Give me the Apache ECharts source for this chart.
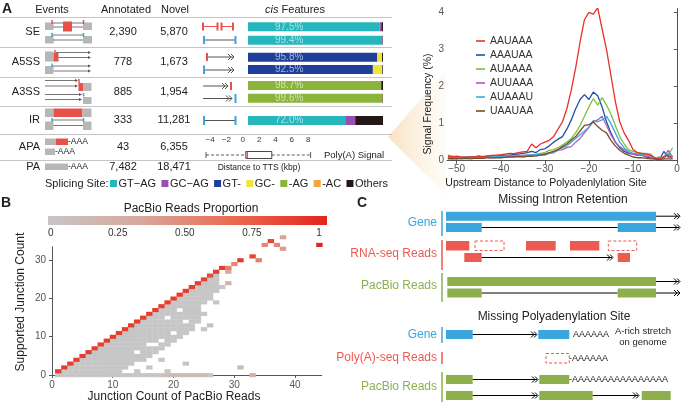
<!DOCTYPE html>
<html><head><meta charset="utf-8">
<script src="https://cdn.jsdelivr.net/npm/echarts@6/dist/echarts.min.js"></script>
<style>html,body{margin:0;padding:0;background:#fff}#c{width:683px;height:407px}</style>
</head><body><div id="c"></div>
<script>
// ---------------- DATA ----------------
const events = ['SE','A5SS','A3SS','IR','APA','PA'];
const annotated = ['2,390','778','885','333','43','7,482'];
const novel = ['5,870','1,673','1,954','11,281','6,355','18,471'];

const siteTypes = ['GT\u2212AG','GC\u2212AG','GT-','GC-','-AG','-AC','Others'];
const cisBarNames = ['SE-1','SE-2','A5SS-1','A5SS-2','A3SS-1','A3SS-2','IR-1'];
const cisGTAG   = [97.5, 99.4, 0, 0, 0, 0, 72.0];
const cisGCAG   = [1.3, 0.4, 0, 0, 0, 0, 7.4];
const cisGT     = [0, 0, 95.8, 92.5, 0, 0, 0];
const cisGC     = [0, 0, 3.5, 7.0, 0, 0, 0];
const cisAG     = [0, 0, 0, 0, 98.7, 99.6, 0];
const cisAC     = [0, 0, 0, 0, 0, 0.1, 0];
const cisOthers = [1.2, 0.2, 0.7, 0.5, 1.3, 0.3, 20.6];
const cisMainLabel = ['97.5%','99.4%','95.8%','92.5%','98.7%','99.6%','72.0%'];

const ttsBox = [-4.5, 0.37, 0.55, 3.55, 8.3]; // min q1 median q3 max (kbp)

const motifNames = ['AAUAAA','AAAUAA','AUAAAA','AUUAAA','AUAAAU','UAAUAA'];
const upstreamPos = [-52,-51,-50,-49,-48,-47,-46,-45,-44,-43,-42,-41,-40,-39,-38,-37,-36,-35,-34,-33,-32,-31,-30,-29,-28,-27,-26,-25,-24,-23,-22,-21,-20,-19,-18,-17,-16,-15,-14,-13,-12,-11,-10,-9,-8,-7,-6,-5,-4,-3,-2,-1];
const sigAAUAAA = [0.12,0.10,0.12,0.10,0.09,0.10,0.10,0.12,0.10,0.13,0.14,0.15,0.16,0.18,0.20,0.19,0.22,0.24,0.25,0.45,0.35,0.45,0.50,0.55,0.65,0.85,1.05,1.40,1.90,2.50,3.20,3.80,4.00,3.95,4.12,3.55,3.00,2.30,1.60,1.05,0.75,0.55,0.30,0.22,0.20,0.18,0.15,0.08,0.05,0.10,0.15,0.05];
const sigAAAUAA = [0.05,0.06,0.05,0.08,0.10,0.08,0.10,0.12,0.10,0.12,0.10,0.12,0.14,0.15,0.15,0.17,0.18,0.20,0.22,0.25,0.22,0.30,0.32,0.40,0.50,0.58,0.65,0.85,1.10,1.40,1.65,1.78,1.65,1.85,1.75,1.45,1.05,0.75,0.50,0.35,0.25,0.20,0.18,0.15,0.15,0.10,0.08,0.05,0.02,0.25,0.10,0.12];
const sigAUAAAA = [0.15,0.12,0.10,0.08,0.08,0.10,0.08,0.10,0.10,0.10,0.10,0.12,0.10,0.10,0.12,0.12,0.12,0.14,0.15,0.15,0.18,0.20,0.22,0.28,0.30,0.35,0.42,0.50,0.60,0.75,0.95,1.20,1.45,1.67,1.50,1.70,1.50,1.25,0.95,0.65,0.45,0.30,0.25,0.22,0.20,0.20,0.18,0.05,0.10,0.10,0.15,0.35];
const sigAUUAAA = [0.08,0.10,0.08,0.07,0.08,0.10,0.08,0.10,0.09,0.10,0.11,0.10,0.12,0.11,0.12,0.13,0.12,0.14,0.14,0.15,0.14,0.15,0.15,0.20,0.22,0.28,0.30,0.35,0.38,0.50,0.60,0.75,0.90,1.05,1.10,1.20,0.95,0.70,0.50,0.38,0.30,0.22,0.18,0.15,0.15,0.12,0.10,0.05,0.08,0.10,0.28,0.10];
const sigAUAAAU = [0.10,0.08,0.10,0.09,0.10,0.08,0.10,0.09,0.12,0.10,0.10,0.12,0.11,0.12,0.13,0.12,0.14,0.13,0.15,0.15,0.16,0.17,0.18,0.20,0.22,0.30,0.35,0.40,0.50,0.60,0.70,0.80,0.90,1.08,1.05,1.10,1.20,1.00,0.75,0.50,0.35,0.25,0.20,0.20,0.18,0.15,0.15,0.02,0.10,0.05,0.20,0.10];
const sigUAAUAA = [0.06,0.05,0.06,0.05,0.06,0.05,0.06,0.07,0.06,0.08,0.07,0.08,0.08,0.09,0.10,0.10,0.11,0.10,0.12,0.12,0.13,0.15,0.18,0.22,0.25,0.30,0.38,0.45,0.55,0.65,0.80,0.95,0.97,1.05,0.92,0.82,0.75,0.55,0.40,0.28,0.20,0.15,0.10,0.08,0.08,0.06,0.05,0.05,0.03,0.05,0.05,0.05];

// Panel B heatmap: diagonal cells (k,k) value, gray ranges [k, yFrom, yTo], extra cells [k, y, value]
const heatDiag = [0.9,0.88,0.88,0.88,0.88,0.88,0.88,0.88,0.88,0.88,0.88,0.88,0.88,0.88,0.88,0.88,0.88,0.88,0.88,0.88,0.88,0.88,0.88,0.88,0.85,0.82,0.9,0.88];
const heatGrayRanges = [[1,0,0],[2,0,1],[3,0,2],[4,0,3],[5,0,4],[6,0,5],[7,0,6],[8,0,7],[9,0,8],[10,0,9],[11,0,10],
 [12,0,0],[12,2,11],[13,0,0],[13,3,12],[14,0,1],[14,4,5],[14,7,13],[15,0,0],[15,4,14],
 [16,0,0],[16,2,2],[16,5,7],[16,9,15],[17,0,0],[17,6,7],[17,9,16],[18,0,0],[18,4,4],[18,7,8],[18,10,17],
 [19,1,1],[19,8,14],[19,16,18],[20,9,10],[20,12,19],[21,10,16],[21,18,20],[22,3,3],[22,11,13],[22,15,21],
 [23,12,22],[24,14,23],[25,12,12],[25,16,16],[25,19,24],[26,0,0],[26,20,25],[27,19,19],[27,22,26],[28,23,23]];
const heatExtra = [[19,0,0.12],[20,0,0.12],[21,0,0.12],[22,0,0.12],[23,0,0.12],[24,0,0.12],[25,0,0.12],
 [26,13,0.1],[29,27,0.3],[29,28,0.55],[29,24,0.2],[30,29,0.5],[31,30,0.9],[33,31,0.85],[34,30,0.55],
 [35,34,0.5],[36,35,0.85],[37,34,0.5],[38,33,0.4],[38,36,0.35],[44,34,1.0],[31,2,0.15],[33,0,0.2]];
const colorScale = ['#c6c6c6','#d8a79c','#ea6a4f','#e3241c'];
const colorbarTicks = [0,0.25,0.5,0.75,1];

// ---------------- BUILD ----------------
const FONT = 'Liberation Sans';
const siteColors = ['#26b7bd','#9a4fb0','#1f3e99','#f0e43c','#8bb43a','#f2a540','#231815'];
const motifColors = ['#e8312a','#1f4fa8','#7cc142','#b05bb8','#3fa9e0','#7a4a2a'];
const G = [];
function T(x,y,text,o){o=o||{};G.push({type:'text',x:x,y:y,rotation:o.rot||0,silent:true,z:5,style:{text:text,fill:o.fill||'#222',fontSize:o.size||11,fontFamily:FONT,fontWeight:o.weight||'normal',fontStyle:o.fstyle||'normal',align:o.align||'center',verticalAlign:'middle',rich:o.rich}});}
function R(x,y,w,h,fill,o){o=o||{};G.push({type:'rect',silent:true,z:5,shape:{x:x,y:y,width:w,height:h},style:{fill:fill||'none',stroke:o.stroke||null,lineWidth:o.lw||1,lineDash:o.dash||null}});}
function L(x1,y1,x2,y2,c,w,dash){G.push({type:'line',silent:true,z:5,shape:{x1:x1,y1:y1,x2:x2,y2:y2},style:{stroke:c||'#333',lineWidth:w||1,lineDash:dash||null}});}
function PL(pts,c,w){G.push({type:'polyline',silent:true,z:5,shape:{points:pts},style:{stroke:c||'#000',lineWidth:w||1,fill:null}});}
function chev(x,y,c){PL([[x-7,y-3],[x-4,y],[x-7,y+3]],c);PL([[x-4,y-3],[x-1,y],[x-4,y+3]],c);}
function ahead(x,y,c){G.push({type:'polygon',silent:true,z:5,shape:{points:[[x,y],[x-3,y-1.6],[x-3,y+1.6]]},style:{fill:c}});}
const mctx=document.createElement('canvas').getContext('2d');
function tw(t,size){mctx.font=size+'px "'+FONT+'"';return mctx.measureText(t).width;}

// wedge
G.push({type:'polygon',silent:true,z:0,shape:{points:[[388,137],[446,70],[446,195]]},
  style:{fill:{type:'linear',x:0,y:0,x2:1,y2:0,colorStops:[{offset:0,color:'rgba(245,205,150,0.6)'},{offset:1,color:'rgba(250,235,210,0.18)'}]}}});

// Panel A table
T(7,9,'A',{size:14,weight:'bold'});
T(52,10,'Events');T(126,10,'Annotated');T(175,10,'Novel');
T(295,10,'{i|cis} Features',{rich:{i:{fontStyle:'italic',fontSize:11,fontFamily:FONT,fill:'#222'}}});
[17.5,47.5,77.5,106.5,134.5,160.5].forEach(y=>L(0,y,392,y,'#c4c4c4',1));
const rowY=[32,62,92,120,147,167];
events.forEach((e,i)=>{T(40,rowY[i],e,{align:'right'});T(123,rowY[i],annotated[i]);T(174,rowY[i],novel[i]);});
const gray='#b7b7b7',red='#e8504a',blue='#3aa6dd',dk='#555';
// SE icon
R(45,22.5,8.5,7.5,gray);R(83,22.5,9,7.5,gray);
L(53,23,83,23,dk,0.8);L(53,27,63,27,dk,0.8);L(72,27,83,27,dk,0.8);
R(63,21.5,9,10,red);L(52,20,52,24,red,1.5);L(83.5,20,83.5,24,red,1.5);
R(45,36,8.5,7.5,gray);R(83,36,9,7.5,gray);
L(52,35,83,35,dk,0.8);L(53,40,83,40,dk,0.8);L(52,33,52,37,blue,1.5);L(83.5,33,83.5,37,blue,1.5);
// A5SS
R(45,51.5,8.5,10,gray);R(53.5,53,5,8.5,red);L(55,50,55,54,red,1.5);
L(56,52.5,89,52.5,dk,0.8);ahead(91,52.5,dk);L(58.5,57.5,89,57.5,dk,0.8);ahead(91,57.5,dk);
R(45,66,8.5,8,gray);L(52,63.5,52,67,blue,1.5);
L(53,66,89,66,dk,0.8);ahead(91,66,dk);L(53.5,71,89,71,dk,0.8);ahead(91,71,dk);
// A3SS
L(45,80.5,76,80.5,dk,0.8);ahead(78,80.5,dk);L(79,79,79,83,red,1.5);
L(45,86,76,86,dk,0.8);ahead(78,86,dk);R(78.5,83,4.5,8,red);R(83,83,8.5,8,gray);
L(45,94.5,80,94.5,dk,0.8);ahead(82,94.5,dk);L(83.5,93,83.5,96.5,blue,1.5);
L(45,99.5,80,99.5,dk,0.8);ahead(82,99.5,dk);R(83,97,8.5,7,gray);
// IR
R(45,108.5,8.5,8.5,gray);R(53.5,108.5,29,8.5,red);R(82.5,108.5,9,8.5,gray);
R(45,121.5,8.5,8.5,gray);R(83,121.5,8.5,8.5,gray);
L(52,120,83,120,dk,0.8);L(53.5,125.5,83,125.5,dk,0.8);L(52,118,52,122,blue,1.5);L(83.5,118,83.5,122,blue,1.5);
// APA / PA
R(45,138.5,11,6.5,gray);R(56,138.5,12,6.5,red);T(68,141.8,'-AAA',{size:8.5,align:'left'});
R(45,148.5,10,6.5,gray);T(55,151.8,'-AAA',{size:8.5,align:'left'});
R(45,163.5,23,6.5,gray);T(68,166.8,'-AAA',{size:8.5,align:'left'});
// cis icons
L(203,26.5,217.5,26.5,red,1);L(221.5,26.5,233,26.5,red,1);
[203,217.5,221.5,233].forEach(x=>L(x,22.5,x,30.5,red,2));
L(204,40,235,40,dk,1);L(204,36,204,44,blue,2);L(235.5,36,235.5,44,blue,2);
L(207,57,234,57,dk,1);L(207,53,207,61,red,2);chev(235,57,dk);
L(204,70,234,70,dk,1);L(204,65.5,204,74,blue,2);chev(235,70,dk);
L(203,86,228,86,dk,1);chev(229,86,dk);L(231,82,231,90,red,2);
L(203,98.5,232,98.5,dk,1);chev(233,98.5,dk);L(235.5,94,235.5,103,blue,2);
L(204,120.5,235,120.5,dk,1);L(204,116,204,125,blue,2);L(235.5,116,235.5,125,blue,2);
// box plot texts
T(259,168,'Distance to TTS (kbp)',{size:8.5});
T(354,155,'Poly(A) Signal',{size:9.5});
// splicing legend (sequential layout between x=110 and x=388)
T(45,183.5,'Splicing Site:',{align:'left'});
(function(){const sq=7,pad=1.5,x0=110,x1=388;
  const ws=siteTypes.map(s=>tw(s,11));const used=ws.reduce((a,b)=>a+b,0)+siteTypes.length*(sq+pad);
  const gap=(x1-x0-used)/(siteTypes.length-1);let x=x0;
  siteTypes.forEach((s,i)=>{R(x,180,sq,sq,siteColors[i]);T(x+sq+pad,183.5,s,{align:'left'});x+=sq+pad+ws[i]+gap;});})();

// line chart axis titles
T(428,104,'Signal Frequency (%)',{rot:Math.PI/2,size:10.5});
T(546,183,'Upstream Distance to Polyadenlylation Site',{size:10.5});

// Panel B
T(6,203,'B',{size:14,weight:'bold'});
T(191,209,'PacBio Reads Proportion',{size:12});
T(21,302,'Supported Junction Count',{rot:Math.PI/2,size:12});
T(174,397,'Junction Count of PacBio Reads',{size:12});

// Panel C
const cblue='#3aa6dd',cred='#ec5a52',cgreen='#8db04d';
T(362,203,'C',{size:14,weight:'bold'});
T(563,200,'Missing Intron Retention',{size:12});
T(437,223,'Gene',{fill:cblue,align:'right',size:12});L(442,211,442,236,cblue,1.5);
T(437,254,'RNA-seq Reads',{fill:cred,align:'right',size:12});L(442,240,442,270,cred,1.5);
T(437,286,'PacBio Reads',{fill:cgreen,align:'right',size:12});L(442,273,442,302,cgreen,1.5);
R(446,211.7,210,9,cblue);L(656,216.2,679,216.2,'#000');chev(681,216.2,'#000');
R(446,223,35.7,9,cblue);L(481.7,227.5,617.7,227.5,'#000');R(617.7,223,38.3,9,cblue);L(656,227.5,679,227.5,'#000');chev(681,227.5,'#000');
R(446,241,23.3,9.5,cred);R(475,241,29,9.5,null,{stroke:cred,dash:[3,2]});R(526,241,29.7,9.5,cred);R(570,241,29.3,9.5,cred);R(608.3,241,28.4,9.5,null,{stroke:cred,dash:[3,2]});
R(464.3,253,17.4,9,cred);L(481.7,257.5,612,257.5,'#000');chev(614,257.5,'#000');R(617.7,253,12.3,9,cred);
R(447.3,277,208.7,9,cgreen);L(656,281.5,679,281.5,'#000');chev(681,281.5,'#000');
R(447.3,288.5,34.4,9,cgreen);L(481.7,293,617.7,293,'#000');R(617.7,288.5,38.3,9,cgreen);L(656,293,679,293,'#000');chev(681,293,'#000');
T(554,316.5,'Missing Polyadenylation Site',{size:12});
T(437,335,'Gene',{fill:cblue,align:'right',size:12});L(442,327,442,343,cblue,1.5);
T(437,358,'Poly(A)-seq Reads',{fill:cred,align:'right',size:12});L(442,352,442,364,cred,1.5);
T(437,387,'PacBio Reads',{fill:cgreen,align:'right',size:12});L(442,372,442,402,cgreen,1.5);
R(446,330,26.7,9,cblue);L(472.7,334.5,536,334.5,'#000');chev(538,334.5,'#000');R(538.3,330,31,9,cblue);
T(573,335,'AAAAAA',{size:9,align:'left'});T(643,331,'A-rich stretch',{size:9.5});T(643,342,'on genome',{size:9.5});
R(546,353.5,23.3,9.5,null,{stroke:cred,dash:[3,2]});T(569,358.5,'-AAAAAA',{size:9,align:'left'});
R(446,375,26.7,9,cgreen);L(472.7,379.5,537,379.5,'#000');chev(539,379.5,'#000');R(539.3,375,30,9,cgreen);T(569,380,'-AAAAAAAAAAAAAAAA',{size:9,align:'left'});
R(446,391,26.7,9,cgreen);L(472.7,395.5,537,395.5,'#000');chev(539,395.5,'#000');R(539.3,391,53.4,9,cgreen);L(592.7,395.5,638,395.5,'#000');chev(640,395.5,'#000');R(641.7,391,29,9,cgreen);

// ---------------- CHART OPTION ----------------
const grids=[],xAxes=[],yAxes=[],series=[];
const cisVals=[cisGTAG,cisGCAG,cisGT,cisGC,cisAG,cisAC,cisOthers];
const cisGroups=[[0,1],[2,3],[4,5],[6]];
const cisBox=[{top:20,height:27},{top:51,height:24.6},{top:79.2,height:25.4},{top:114,height:13}];
cisGroups.forEach((idx,g)=>{
  grids.push({left:248,width:135,top:cisBox[g].top,height:cisBox[g].height});
  xAxes.push({gridIndex:g,type:'value',min:0,max:100,show:false});
  yAxes.push({gridIndex:g,type:'category',data:idx.map(i=>cisBarNames[i]),inverse:true,show:false});
  cisVals.forEach((vals,s)=>{
    series.push({type:'bar',name:siteTypes[s],xAxisIndex:g,yAxisIndex:g,stack:'cis'+g,barWidth:9,silent:true,
      itemStyle:{color:siteColors[s]},
      data:idx.map(i=>{const mx=Math.max.apply(null,cisVals.map(v=>v[i]));
        return vals[i]===mx?{value:vals[i],label:{show:true,position:[27,'50%'],align:'left',verticalAlign:'middle',formatter:cisMainLabel[i],color:'rgba(255,255,255,0.6)',fontSize:10,fontFamily:FONT}}:vals[i];})});
  });
});
// grid 4 boxplot
grids.push({left:206,width:104.6,top:146,height:18});
xAxes.push({gridIndex:4,type:'value',min:-4.5,max:8.3,position:'top',
  axisLine:{lineStyle:{color:'#333',width:0.8}},splitLine:{show:false},
  axisTick:{inside:true,length:2,customValues:[-4,-2,0,2,4,6,8],lineStyle:{color:'#333'}},
  axisLabel:{customValues:[-4,-2,0,2,4,6,8],fontSize:8,margin:2,color:'#333',fontFamily:FONT,formatter:v=>v<0?'\u2212'+(-v):''+v}});
yAxes.push({gridIndex:4,type:'category',data:['TTS'],show:false});
series.push({type:'custom',xAxisIndex:4,yAxisIndex:4,silent:true,data:[ttsBox.concat([0])],
  renderItem:function(p,api){
    const y=api.coord([0,0])[1];
    const c=i=>api.coord([api.value(i),0])[0];
    const lo=c(0),q1=c(1),md=c(2),q3=c(3),hi=c(4),h=7;
    return {type:'group',children:[
      {type:'line',shape:{x1:lo,y1:y,x2:q1,y2:y},style:{stroke:'#333',lineWidth:0.8,lineDash:[3,2]}},
      {type:'line',shape:{x1:q3,y1:y,x2:hi,y2:y},style:{stroke:'#333',lineWidth:0.8,lineDash:[3,2]}},
      {type:'line',shape:{x1:lo,y1:y-3,x2:lo,y2:y+3},style:{stroke:'#333',lineWidth:0.8}},
      {type:'line',shape:{x1:hi,y1:y-3,x2:hi,y2:y+3},style:{stroke:'#333',lineWidth:0.8}},
      {type:'rect',shape:{x:q1,y:y-h/2,width:q3-q1,height:h},style:{fill:'#fff',stroke:'#333',lineWidth:0.9}},
      {type:'line',shape:{x1:md,y1:y-h/2,x2:md,y2:y+h/2},style:{stroke:'#e8312a',lineWidth:1.2}}]};
  }});
// grid 5 line chart
grids.push({left:447,right:6,top:8.6,bottom:246.3});
xAxes.push({gridIndex:5,type:'value',min:-52.2,max:0,splitLine:{show:false},
  axisLine:{lineStyle:{color:'#555'}},axisTick:{length:3,customValues:[-50,-40,-30,-20,-10,0],lineStyle:{color:'#555'}},
  axisLabel:{customValues:[-50,-40,-30,-20,-10,0],fontSize:10,color:'#555',margin:4,fontFamily:FONT,formatter:v=>v<0?'\u2212'+(-v):''+v}});
yAxes.push({gridIndex:5,type:'value',min:0,max:4.1,interval:1,splitLine:{show:false},
  axisLine:{show:true,lineStyle:{color:'#555'}},axisTick:{show:true,length:3,lineStyle:{color:'#555'}},
  axisLabel:{fontSize:10,color:'#555',margin:3,fontFamily:FONT,showMaxLabel:false}});
const sigs=[sigAAUAAA,sigAAAUAA,sigAUAAAA,sigAUUAAA,sigAUAAAU,sigUAAUAA];
motifNames.forEach((m,i)=>{
  series.push({type:'line',name:m,xAxisIndex:5,yAxisIndex:5,symbol:'none',silent:true,z:3+(i===0?1:0),
    lineStyle:{color:motifColors[i],width:1.3},itemStyle:{color:motifColors[i]},
    data:upstreamPos.map((x,j)=>[x,sigs[i][j]])});
});
// grid 6 colorbar
grids.push({left:48,width:279,top:216,height:9});
xAxes.push({gridIndex:6,type:'value',min:-0.01,max:1.03,splitLine:{show:false},axisLine:{show:false},axisTick:{show:false},
  axisLabel:{customValues:colorbarTicks,fontSize:10,color:'#333',margin:3,fontFamily:FONT,formatter:v=>v===0?'0':v===1?'1':v.toFixed(2)}});
yAxes.push({gridIndex:6,type:'value',min:0,max:1,show:false});
series.push({type:'custom',xAxisIndex:6,yAxisIndex:6,silent:true,data:[[0,0]],
  renderItem:function(p,api){const cs=p.coordSys;
    return {type:'rect',shape:{x:cs.x,y:cs.y,width:cs.width,height:cs.height},
      style:{fill:{type:'linear',x:0,y:0,x2:1,y2:0,colorStops:colorScale.map((c,i)=>({offset:i/(colorScale.length-1),color:c}))}}};}});
// grid 7 heatmap
grids.push({left:50,right:361.3,top:246.7,bottom:30.3});
xAxes.push({gridIndex:7,type:'value',min:-0.33,max:44.4,splitLine:{show:false},
  axisLine:{lineStyle:{color:'#555'}},axisTick:{length:3,customValues:[0,10,20,30,40],lineStyle:{color:'#555'}},
  axisLabel:{customValues:[0,10,20,30,40],fontSize:10,color:'#555',margin:4,fontFamily:FONT}});
yAxes.push({gridIndex:7,type:'value',min:-0.45,max:33.5,splitLine:{show:false},
  axisLine:{show:true,lineStyle:{color:'#555'}},axisTick:{show:true,length:3,customValues:[0,10,20,30],lineStyle:{color:'#555'}},
  axisLabel:{customValues:[0,10,20,30],fontSize:10,color:'#555',margin:4,fontFamily:FONT}});
const heatData=[];
heatGrayRanges.forEach(r=>{for(let j=r[1];j<=r[2];j++)heatData.push([r[0],j,0]);});
heatDiag.forEach((v,i)=>heatData.push([i+1,i+1,v]));
heatExtra.forEach(c=>heatData.push(c));
const heatIdx=series.length;
series.push({type:'custom',xAxisIndex:7,yAxisIndex:7,silent:true,clip:false,data:heatData,
  renderItem:function(p,api){const x=api.value(0),y=api.value(1);
    const a=api.coord([x-0.5,y+0.5]),b=api.coord([x+0.5,y-0.5]);
    return {type:'rect',shape:{x:a[0],y:a[1],width:b[0]-a[0]+0.3,height:b[1]-a[1]+0.3},style:{fill:api.visual('color')}};}});

const option={animation:false,backgroundColor:'#fff',textStyle:{fontFamily:FONT},
  grid:grids,xAxis:xAxes,yAxis:yAxes,series:series,
  visualMap:[{type:'continuous',show:false,min:0,max:1,dimension:2,seriesIndex:heatIdx,inRange:{color:colorScale}}],
  legend:[{data:motifNames,orient:'vertical',left:476,top:35,icon:'rect',itemWidth:9,itemHeight:1.6,itemGap:2,
    selectedMode:false,padding:0,textStyle:{fontSize:10.5,color:'#333',fontFamily:FONT,lineHeight:12}}],
  graphic:{elements:G}};
const chart=echarts.init(document.getElementById('c'),null,{renderer:'canvas'});
chart.setOption(option);
</script></body></html>
